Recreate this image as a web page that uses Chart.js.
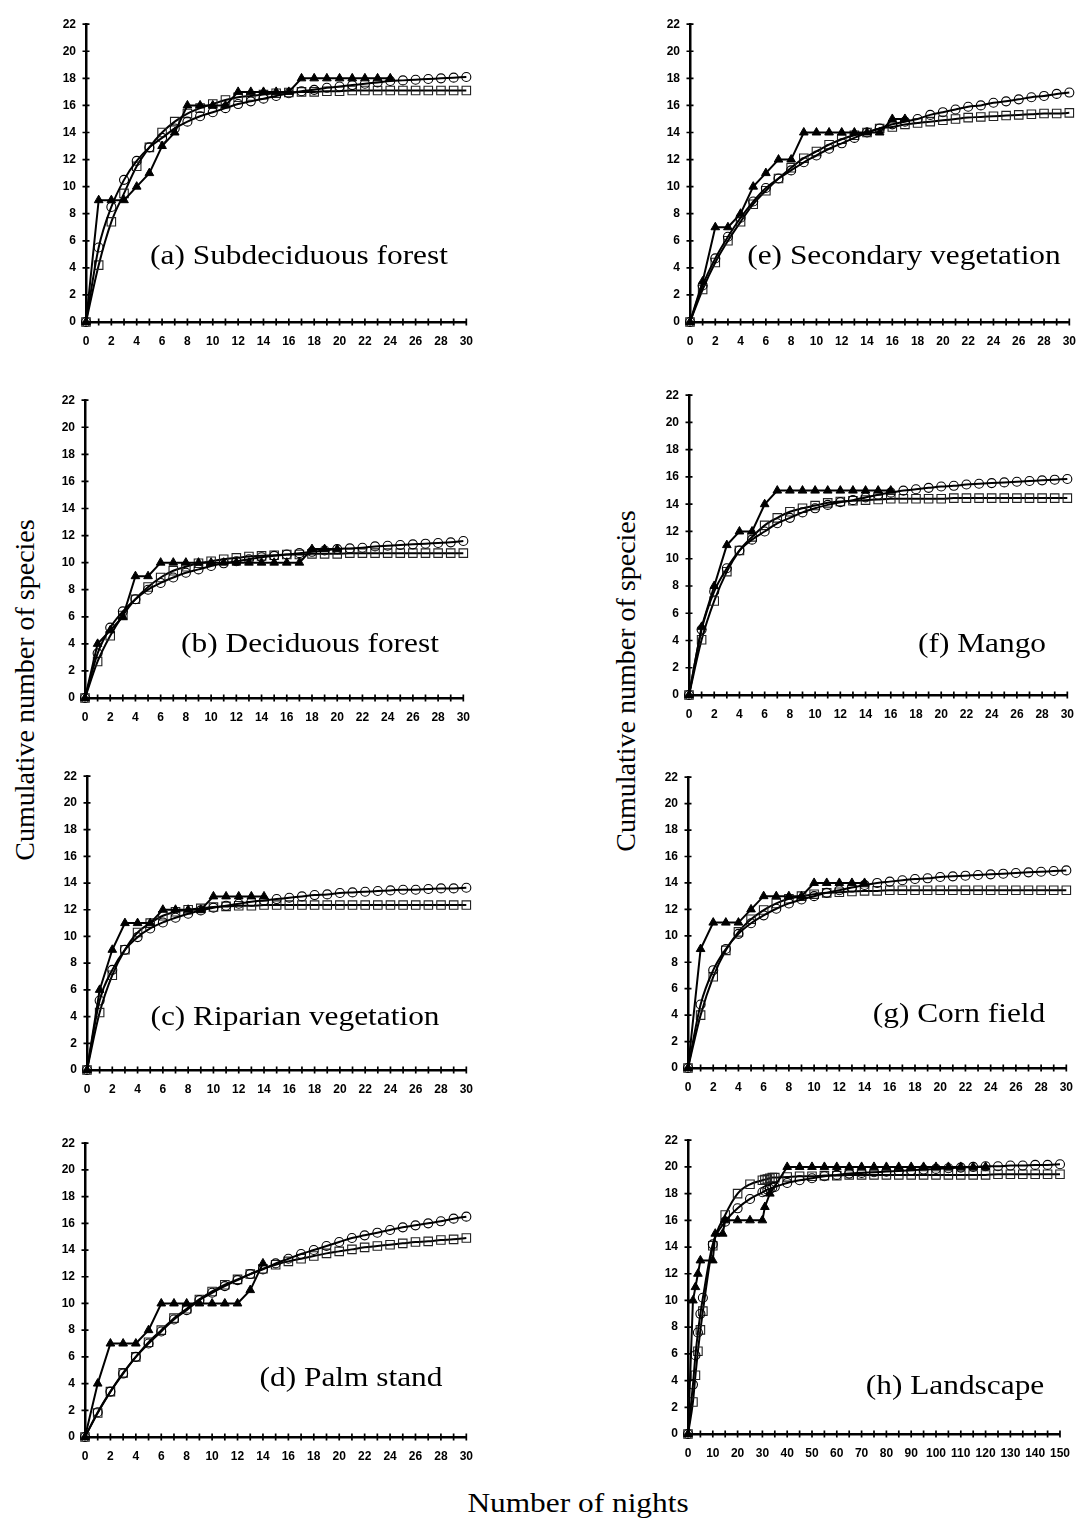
<!DOCTYPE html>
<html>
<head>
<meta charset="utf-8">
<script src="https://cdn.jsdelivr.net/npm/chart.js@4.4.1/dist/chart.umd.min.js"></script>
<style>
  body { margin: 0; background: #fff; }
  #page { position: relative; width: 1084px; height: 1520px; overflow: hidden;
          font-family: "Liberation Serif", "Times New Roman", serif; color: #000; }
  #page canvas { position: absolute; }
  .lbl { position: absolute; white-space: nowrap; font-size: 28px; line-height: 1;
         transform: translate(-50%, -50%) scaleX(1.12); }
  .ylab { position: absolute; white-space: nowrap; font-size: 28px; line-height: 1;
          transform: translate(-50%, -50%) rotate(-90deg); }
</style>
</head>
<body>
<div id="page">
  <div class="ylab" style="left:25px; top:690px;">Cumulative number of species</div>
  <div class="ylab" style="left:626px; top:681px;">Cumulative number of species</div>
  <div class="lbl" style="left:578px; top:1503px;">Number of nights</div>
</div>
<script>
"use strict";

// DATA -----------------------
const nights30 = [0,1,2,3,4,5,6,7,8,9,10,11,12,13,14,15,16,17,18,19,20,21,22,23,24,25,26,27,28,29,30];
const yTicks = [0,2,4,6,8,10,12,14,16,18,20,22];

// (a) Subdeciduous forest
const obsA = [0,9,9,9,10,11,13,14,16,16,16,16,17,17,17,17,17,18,18,18,18,18,18,18,18];
const circA = [0,5.5,8.5,10.5,11.9,12.9,13.6,14.3,14.8,15.2,15.5,15.8,16.1,16.3,16.5,16.7,16.9,17.05,17.15,17.3,17.4,17.5,17.6,17.7,17.8,17.85,17.9,17.95,18.0,18.05,18.1];
const sqA = [0,4.2,7.4,9.5,11.5,12.9,14.0,14.8,15.4,15.8,16.1,16.4,16.6,16.7,16.8,16.9,16.95,17.0,17.0,17.05,17.05,17.1,17.1,17.1,17.1,17.1,17.1,17.1,17.1,17.1,17.1];

// (b) Deciduous forest
const obsB = [0,4,5,6,9,9,10,10,10,10,10,10,10,10,10,10,10,10,11,11,11];
const circB = [0,3.3,5.2,6.4,7.3,8.0,8.5,8.9,9.25,9.5,9.75,9.95,10.1,10.25,10.4,10.5,10.6,10.7,10.8,10.9,11.0,11.05,11.1,11.2,11.25,11.3,11.35,11.4,11.45,11.5,11.6];
const sqB = [0,2.7,4.6,6.1,7.3,8.2,8.9,9.4,9.7,9.95,10.1,10.25,10.35,10.45,10.5,10.55,10.6,10.6,10.65,10.65,10.65,10.7,10.7,10.7,10.7,10.7,10.7,10.7,10.7,10.7,10.7];

// (c) Riparian vegetation
const obsC = [0,6,9,11,11,11,12,12,12,12,13,13,13,13,13];
const circC = [0,5.2,7.5,9.0,9.95,10.6,11.05,11.4,11.7,11.95,12.15,12.3,12.45,12.6,12.7,12.8,12.9,13.0,13.1,13.15,13.25,13.3,13.35,13.4,13.45,13.5,13.5,13.55,13.6,13.6,13.65];
const sqC = [0,4.3,7.1,9.0,10.3,11.0,11.55,11.85,12.0,12.1,12.2,12.25,12.3,12.3,12.35,12.35,12.35,12.35,12.35,12.35,12.35,12.35,12.35,12.35,12.35,12.35,12.35,12.35,12.35,12.35,12.35];

// (d) Palm stand
const obsD = [0,4,7,7,7,8,10,10,10,10,10,10,10,11,13];
const circD = [0,1.85,3.4,4.75,6.0,7.0,7.9,8.8,9.5,10.25,10.8,11.3,11.75,12.2,12.55,13.0,13.35,13.7,14.0,14.3,14.6,14.9,15.1,15.3,15.5,15.7,15.85,16.0,16.15,16.35,16.5];
const sqD = [0,1.8,3.4,4.8,6.0,7.1,8.0,8.9,9.6,10.3,10.9,11.4,11.8,12.2,12.6,12.9,13.15,13.35,13.55,13.75,13.9,14.05,14.2,14.3,14.4,14.5,14.6,14.65,14.75,14.8,14.9];

// (e) Secondary vegetation
const obsE = [0,3,7,7,8,10,11,12,12,14,14,14,14,14,14,14,15,15];
const circE = [0,2.7,4.7,6.3,7.7,8.9,9.9,10.6,11.2,11.8,12.3,12.8,13.2,13.6,14.0,14.3,14.6,14.8,15.0,15.3,15.5,15.7,15.9,16.0,16.2,16.3,16.45,16.6,16.7,16.85,16.95];
const sqE = [0,2.4,4.4,6.0,7.4,8.7,9.7,10.6,11.4,12.1,12.6,13.1,13.5,13.8,14.0,14.3,14.4,14.6,14.7,14.8,14.9,15.0,15.1,15.15,15.2,15.25,15.3,15.35,15.4,15.4,15.45];

// (f) Mango
const obsF = [0,5,8,11,12,12,14,15,15,15,15,15,15,15,15,15,15];
const circF = [0,4.8,7.6,9.3,10.6,11.4,12.0,12.6,13.0,13.4,13.7,13.95,14.15,14.3,14.5,14.7,14.85,15.0,15.1,15.2,15.3,15.35,15.45,15.5,15.55,15.6,15.65,15.7,15.75,15.8,15.85];
const sqF = [0,4.05,6.9,9.05,10.6,11.6,12.45,13.0,13.45,13.7,13.9,14.1,14.2,14.25,14.3,14.35,14.4,14.4,14.4,14.4,14.4,14.45,14.45,14.45,14.45,14.45,14.45,14.45,14.45,14.45,14.45];

// (g) Corn field
const obsG = [0,9,11,11,11,12,13,13,13,13,14,14,14,14,14];
const circG = [0,4.8,7.4,9.0,10.15,10.95,11.55,12.05,12.45,12.75,13.0,13.25,13.45,13.65,13.85,14.0,14.1,14.2,14.3,14.35,14.45,14.5,14.55,14.6,14.65,14.7,14.75,14.8,14.85,14.9,14.95];
const sqG = [0,4.0,6.9,8.9,10.3,11.25,11.95,12.45,12.8,13.0,13.15,13.25,13.3,13.35,13.4,13.4,13.45,13.45,13.45,13.45,13.45,13.45,13.45,13.45,13.45,13.45,13.45,13.45,13.45,13.45,13.45];

// (h) Landscape (nights 0-150, markers at uneven nights)
const nightsObsH = [0,2,3,4,5,10,11,14,15,20,25,30,31,33,40,45,50,55,60,65,70,75,80,85,90,95,100,105,110,115,120];
const obsH = [0,10,11,12,13,13,15,15,16,16,16,16,17,18,20,20,20,20,20,20,20,20,20,20,20,20,20,20,20,20,20];
const nightsEstH = [0,2,3,4,5,6,10,15,20,25,30,31,32,33,34,35,40,45,50,55,60,65,70,75,80,85,90,95,100,105,110,115,120,125,130,135,140,145,150];
const circH = [0,3.7,5.9,7.6,9.0,10.2,14.2,15.9,16.9,17.6,18.1,18.2,18.3,18.35,18.45,18.5,18.8,19.0,19.15,19.3,19.4,19.5,19.55,19.6,19.65,19.7,19.75,19.8,19.85,19.9,19.95,20.0,20.05,20.05,20.1,20.1,20.15,20.15,20.2];
const sqH = [0,2.4,4.4,6.2,7.8,9.2,14.1,16.4,18.0,18.7,19.0,19.05,19.1,19.15,19.2,19.2,19.25,19.3,19.3,19.35,19.35,19.4,19.4,19.4,19.4,19.4,19.4,19.4,19.4,19.4,19.4,19.4,19.4,19.45,19.45,19.45,19.45,19.45,19.45];

// PANELS -----------------------
// area = chart area on the page: left, top, right, bottom
const panels = [
  { title: '(a) Subdeciduous forest', obsX: nights30, obs: obsA, estX: nights30, circ: circA, sq: sqA,
    xMax: 30, xStep: 2, minor: 1, area: [86, 17, 473, 322], titleAt: [299, 255] },
  { title: '(e) Secondary vegetation', obsX: nights30, obs: obsE, estX: nights30, circ: circE, sq: sqE,
    xMax: 30, xStep: 2, minor: 1, area: [690, 17, 1076, 322], titleAt: [904, 255] },
  { title: '(b) Deciduous forest', obsX: nights30, obs: obsB, estX: nights30, circ: circB, sq: sqB,
    xMax: 30, xStep: 2, minor: 1, area: [85, 393, 470, 698], titleAt: [310, 643] },
  { title: '(f) Mango', obsX: nights30, obs: obsF, estX: nights30, circ: circF, sq: sqF,
    xMax: 30, xStep: 2, minor: 1, area: [689, 388, 1074, 695], titleAt: [982, 643] },
  { title: '(c) Riparian vegetation', obsX: nights30, obs: obsC, estX: nights30, circ: circC, sq: sqC,
    xMax: 30, xStep: 2, minor: 1, area: [87, 769, 473, 1070], titleAt: [295, 1016] },
  { title: '(g) Corn field', obsX: nights30, obs: obsG, estX: nights30, circ: circG, sq: sqG,
    xMax: 30, xStep: 2, minor: 1, area: [688, 770, 1073, 1068], titleAt: [959, 1013] },
  { title: '(d) Palm stand', obsX: nights30, obs: obsD, estX: nights30, circ: circD, sq: sqD,
    xMax: 30, xStep: 2, minor: 1, area: [85, 1136, 473, 1437], titleAt: [351, 1377] },
  { title: '(h) Landscape', obsX: nightsObsH, obs: obsH, estX: nightsEstH, circ: circH, sq: sqH,
    xMax: 150, xStep: 10, minor: 5, area: [688, 1133, 1070, 1434], titleAt: [955, 1385] }
];

// little "+" ticks crossing both axes
const crossTicks = {
  id: 'crossTicks',
  afterDatasetsDraw(chart, args, opts) {
    const {ctx, scales: {x, y}} = chart;
    const x0 = x.getPixelForValue(0), y0 = y.getPixelForValue(0);
    ctx.save();
    ctx.strokeStyle = '#000';
    ctx.lineWidth = 1.7;
    ctx.beginPath();
    for (let v = 0; v <= x.max; v += opts.minor) {
      const px = x.getPixelForValue(v);
      ctx.moveTo(px, y0 - 3.5);
      ctx.lineTo(px, y0 + 3.5);
    }
    yTicks.forEach(v => {
      const py = y.getPixelForValue(v);
      ctx.moveTo(x0 - 3.5, py);
      ctx.lineTo(x0 + 3.5, py);
    });
    ctx.stroke();
    ctx.restore();
  }
};

function pts(xs, ys) {
  return ys.map((v, i) => ({x: xs[i], y: v}));
}

const page = document.getElementById('page');
const tickFont = {family: 'Liberation Sans, Arial, sans-serif', weight: 'bold', size: 12};

function makePanel(p) {
  const AXW = 40, AXH = 32, PT = 10, PR = 12;
  const [L, T, R, B] = p.area;
  const left = L - AXW, top = T - PT;
  const w = R + PR - left, h = B + AXH - top;

  const cv = document.createElement('canvas');
  cv.width = w; cv.height = h;
  cv.style.left = left + 'px'; cv.style.top = top + 'px';
  cv.style.width = w + 'px'; cv.style.height = h + 'px';
  page.appendChild(cv);

  const title = document.createElement('div');
  title.className = 'lbl';
  title.style.left = p.titleAt[0] + 'px';
  title.style.top = p.titleAt[1] + 'px';
  title.textContent = p.title;
  page.appendChild(title);

  new Chart(cv.getContext('2d'), {
    type: 'line',
    data: {
      datasets: [{
        label: 'Observed',
        data: pts(p.obsX, p.obs),
        borderColor: '#000',
        backgroundColor: '#000',
        borderWidth: 2,
        pointStyle: 'triangle',
        pointRadius: 5,
        pointBorderWidth: 1,
        fill: false,
        clip: false,
        order: 0
      }, {
        label: 'Estimator 1',
        data: pts(p.estX, p.circ),
        borderColor: '#000',
        backgroundColor: 'rgba(0,0,0,0)',
        borderWidth: 2,
        pointStyle: 'circle',
        pointRadius: 4.5,
        pointBorderWidth: 1.1,
        cubicInterpolationMode: 'monotone',
        fill: false,
        clip: false,
        order: 1
      }, {
        label: 'Estimator 2',
        data: pts(p.estX, p.sq),
        borderColor: '#000',
        backgroundColor: 'rgba(0,0,0,0)',
        pointBorderColor: '#222',
        borderWidth: 2,
        pointStyle: 'rect',
        pointRadius: 6,
        pointBorderWidth: 1.1,
        cubicInterpolationMode: 'monotone',
        fill: false,
        clip: false,
        order: 2
      }]
    },
    options: {
      responsive: false,
      devicePixelRatio: 1,
      animation: false,
      events: [],
      layout: { padding: { top: PT, right: PR, left: 0, bottom: 0 } },
      plugins: {
        legend: { display: false },
        tooltip: { enabled: false },
        crossTicks: { minor: p.minor }
      },
      scales: {
        x: {
          type: 'linear',
          min: 0, max: p.xMax,
          grid: { display: false, drawTicks: false },
          border: { display: true, color: '#000', width: 2.5 },
          ticks: { stepSize: p.xStep, autoSkip: false, maxRotation: 0, color: '#000', font: tickFont, padding: 12 },
          afterFit: s => { s.height = AXH; }
        },
        y: {
          type: 'linear',
          min: 0, max: 22,
          grid: { display: false, drawTicks: false },
          border: { display: true, color: '#000', width: 2.5 },
          ticks: { stepSize: 2, autoSkip: false, color: '#000', font: tickFont, padding: 10 },
          afterFit: s => { s.width = AXW; }
        }
      }
    },
    plugins: [crossTicks]
  });
}

panels.forEach(makePanel);
</script>
</body>
</html>
